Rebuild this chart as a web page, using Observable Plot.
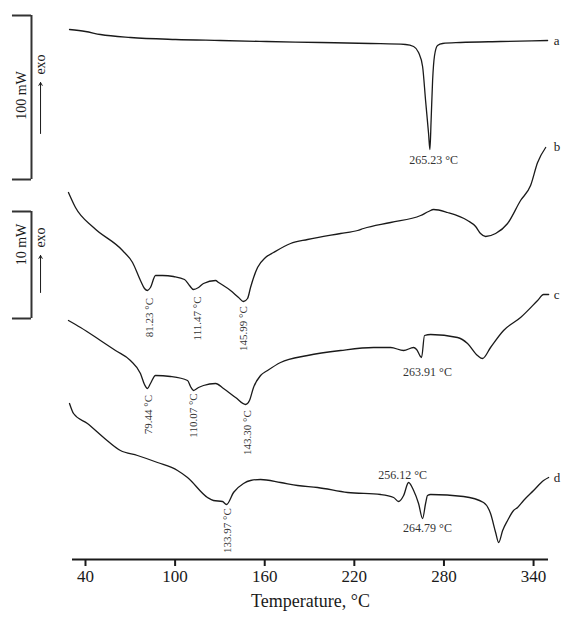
<!DOCTYPE html>
<html>
<head>
<meta charset="utf-8">
<script src="https://cdn.jsdelivr.net/npm/d3@7"></script>
<script src="https://cdn.jsdelivr.net/npm/@observablehq/plot@0.6"></script>
<style>
  body { margin: 0; background: #fff; }
  #chart svg { display: block; }
</style>
</head>
<body>
<div id="chart"></div>
<script>
// Temperature (°C) and relative heat-flow signal (arbitrary units, curves stacked)
const curveA = [[29.3,530],[40,528],[50,525],[70.1,522],[100.3,520],[130.4,519],[161.2,518],[197.4,517],[230.9,516],[254.3,515],[259.7,513],[263,507],[265.7,493],[267.7,459],[269.7,426],[270.6,410],[271.4,439],[272.4,479],[273.7,504],[275.7,514],[279.1,516],[291.1,517],[317.9,518],[349.4,519]];
const curveB = [[28.6,367],[33.3,352],[45.4,332],[64.8,309],[71.5,297],[76.8,279],[79.5,271],[81.5,269],[83.5,272],[86.9,284],[91.6,284],[98.9,283],[106.3,280],[109.6,274],[112.3,270],[115.7,272],[119,276],[127.1,279],[129.1,277],[137.1,269],[142.5,262],[145.8,258],[148.5,261],[150.5,272],[155.2,292],[160.5,302],[165.9,307],[177.3,316],[188.7,320],[210.8,326],[222.2,329],[226.2,331],[244.3,337],[264.4,344],[269.7,348],[273.1,350],[282.4,347],[295.8,339],[301.2,333],[304.5,326],[307.9,323],[314.6,326],[322.6,336],[331.3,359],[338,374],[342.7,397],[348.1,412]];
const curveC = [[28.6,239],[36.7,232],[50,219],[60.1,209],[70.1,199],[76.8,186],[79.5,175],[81.5,171],[83.5,176],[86.9,184],[96.9,183],[108.3,179],[110.3,173],[112.3,169],[115.7,172],[119,174],[127.1,176],[132.4,171],[140.5,162],[147.2,155],[149.8,159],[152.5,172],[157.2,184],[161.9,189],[170.6,197],[188.7,204],[210.8,209],[232.9,212],[244.3,212],[253,209],[259.7,212],[261.7,210],[265,202],[267,224],[271.1,225],[289.1,222],[295.8,216],[302.5,204],[305.9,201],[311.2,212],[319.9,229],[331.3,242],[342.7,259],[346.7,265],[350.1,265]];
const curveD = [[29.3,156],[32,146],[41.3,136],[52.1,122],[63.4,109],[74.8,104],[88.2,97],[101.6,89],[108.3,82],[121.7,62],[125.7,59],[131.7,58],[134.4,55],[139.1,67],[145.8,76],[150.5,79],[157.2,80],[170.6,77],[182,74],[195.4,72],[215.5,67],[237.6,65],[246.3,62],[249.6,58],[253,64],[256.3,77],[259.7,69],[263,56],[265.7,41],[267.7,56],[269,64],[271.1,65],[293.1,63],[306.5,57],[311.2,46],[314.6,27],[316.6,17],[319.3,29],[322.6,39],[326.6,49],[329.3,52],[333.3,59],[340,69],[346.7,79],[350.1,82]];

const seriesNames = ["a", "b", "c", "d"];
const seriesLabelPos = [[353.5,519],[353.5,413],[353.5,265],[353.5,82]];

// Peak annotations: text, temperature, signal, rotated?
const peakTexts = ["265.23 °C","81.23 °C","111.47 °C","145.99 °C","79.44 °C","110.07 °C","143.30 °C","263.91 °C","133.97 °C","256.12 °C","264.79 °C"];
const peakT = [273.1, 82.9, 115, 145.8, 82.2, 112.3, 148.5, 269, 135.1, 252.3, 269];
const peakV = [399, 242, 241, 231, 145, 144, 127, 187, 29, 84, 31];
const peakRot = [false, true, true, true, true, true, true, false, true, false, false];

// Scale bars (heat flow magnitude): label, bottom, top
const barLabels = ["100 mW", "10 mW"];
const barBottom = [380, 241];
const barTop = [544, 348];
const arrowFrom = [426, 267];
const arrowTo = [477, 304];
const exoV = [495, 322];
const barLabelV = [464, 315];

const xTicks = [40, 100, 160, 220, 280, 340];

const toRows = (arr, s) => arr.map(([t, v]) => ({t, v, s}));
const curves = [
  ...toRows(curveA, "a"), ...toRows(curveB, "b"),
  ...toRows(curveC, "c"), ...toRows(curveD, "d")
];
const peaks = peakTexts.map((text, i) => ({text, t: peakT[i], v: peakV[i], rot: peakRot[i]}));
const bars = barLabels.map((label, i) => ({label, lo: barBottom[i], hi: barTop[i], a0: arrowFrom[i], a1: arrowTo[i], exo: exoV[i], lv: barLabelV[i]}));
const seriesLabels = seriesNames.map((n, i) => ({n, t: seriesLabelPos[i][0], v: seriesLabelPos[i][1]}));

const barX = 3.84, barTickX = -8.9, barTextX = -2.86, exoX = 9.9;
const ink = "#1a1a1a";

const chart = Plot.plot({
  width: 561,
  height: 619,
  marginLeft: 72,
  marginRight: 13,
  marginTop: 0,
  marginBottom: 60,
  x: {domain: [31.3, 350]},
  y: {domain: [0, 559], axis: null},
  style: {fontFamily: "'Liberation Serif', 'DejaVu Serif', serif", background: "white", color: ink},
  marks: [
    Plot.line(curves, {x: "t", y: "v", z: "s", curve: "monotone-x", stroke: ink, strokeWidth: 1.3}),
    Plot.ruleY([0], {stroke: ink, strokeWidth: 2}),
    Plot.axisX({ticks: xTicks, tickSize: 7, tickPadding: 3, fontSize: 17, strokeWidth: 2, label: null, tickFormat: d => String(d)}),
    Plot.text(["Temperature, °C"], {frameAnchor: "bottom", dy: 47, fontSize: 18, fill: ink}),
    // peak labels
    Plot.text(peaks.filter(d => !d.rot), {x: "t", y: "v", text: "text", fontSize: 12, fill: "#333"}),
    Plot.text(peaks.filter(d => d.rot), {x: "t", y: "v", text: "text", fontSize: 11, rotate: -90, fill: "#333"}),
    // series letters
    Plot.text(seriesLabels, {x: "t", y: "v", text: "n", fontSize: 13, textAnchor: "start", fill: ink}),
    // scale bars
    Plot.ruleX(bars, {x: barX, y1: "lo", y2: "hi", stroke: "#333", strokeWidth: 2}),
    Plot.ruleY(bars, {y: "lo", x1: barTickX, x2: barX, stroke: "#333", strokeWidth: 2}),
    Plot.ruleY(bars, {y: "hi", x1: barTickX, x2: barX, stroke: "#333", strokeWidth: 2}),
    Plot.text(bars, {x: barTextX, y: "lv", text: "label", rotate: -90, fontSize: 14, fill: ink}),
    Plot.text(bars, {x: exoX, y: "exo", text: () => "exo", rotate: -90, fontSize: 14, fill: ink}),
    Plot.arrow(bars, {x1: exoX, x2: exoX, y1: "a0", y2: "a1", headLength: 5, strokeWidth: 1, stroke: ink})
  ]
});
document.getElementById("chart").append(chart);
</script>
</body>
</html>
